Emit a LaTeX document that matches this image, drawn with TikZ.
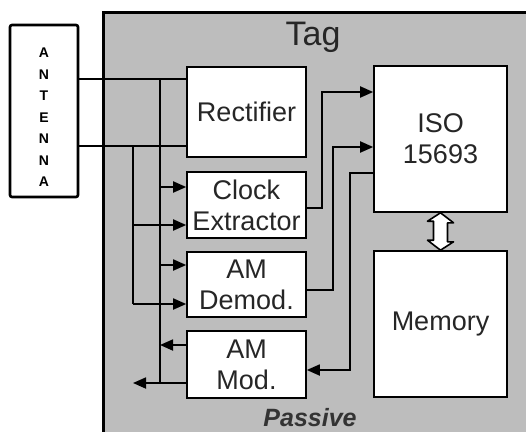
\documentclass[tikz,border=0pt]{standalone}
\usepackage{fontspec}
\setmainfont{Liberation Sans}
\usetikzlibrary{arrows.meta,calc}

\tikzset{
  block/.style={draw=black, line width=1.6pt, fill=white, align=center,
    font=\fontsize{27}{31}\selectfont, text=black!85, inner sep=0pt},
  wire/.style={draw=black, line width=1.8pt},
  arr/.style={wire, -{Triangle[length=13pt,width=11pt]}},
}

\begin{document}
\begin{tikzpicture}[x=1pt,y=-1pt]
  \useasboundingbox (0,0) rectangle (526,431);
  \fill[white] (0,0) rectangle (526,431);

  % tag enclosure
  \draw[line width=3pt, fill=black!26] (103,12) -- (103,440) -- (540,440) -- (540,12) -- cycle;
  \node[font=\fontsize{34}{36}\selectfont, text=black!85, anchor=base] (tag) at (313,45) {Tag};
  \node[font=\fontsize{25}{27}\bfseries\itshape\selectfont, text=black!80, anchor=base,
        inner sep=0pt] (passive) at (310,426) {Passive};

  % antenna
  \node[draw, line width=2.6pt, rounded corners=2pt, fill=white, minimum width=68pt,
        minimum height=172pt, inner sep=0pt] (ant) at (44,111) {};
  \foreach \l [count=\i from 0] in {A,N,T,E,N,N,A}
    \node[font=\fontsize{14}{14}\bfseries\selectfont, inner sep=0pt] (antl\i) at (44,53+21.5*\i) {\l};

  % blocks
  \node[block, minimum width=119pt, minimum height=90pt] (rect) at (246.5,112) {Rectifier};
  \node[block, minimum width=119pt, minimum height=66pt] (clk) at (246.5,205) {Clock\\Extractor};
  \node[block, minimum width=119pt, minimum height=65pt] (dem) at (246.5,284.5) {AM\\Demod.};
  \node[block, minimum width=119pt, minimum height=67pt] (mod) at (246.5,364.5) {AM\\Mod.};
  \node[block, minimum width=133pt, minimum height=146pt] (iso) at (440.5,139) {ISO\\15693};
  \node[block, minimum width=133pt, minimum height=146pt] (mem) at (440.5,324) {Memory};

  % bus rails
  \coordinate (ta) at (0,79);
  \coordinate (tb) at (0,146);
  \coordinate (busA) at (160,0);
  \coordinate (busB) at (133,0);

  \draw[wire] (ant.east |- ta) -- (rect.west |- ta);
  \draw[wire] (ant.east |- tb) -- (rect.west |- tb);
  \draw[wire] (busA |- ta) -- (busA |- 0,383);
  \draw[wire] (busB |- tb) -- (busB |- 0,304);

  % feeds into the front-end blocks
  \draw[arr] (busA |- 0,187) -- (clk.west |- 0,187);
  \draw[arr] (busB |- 0,225) -- (clk.west |- 0,225);
  \draw[arr] (busA |- 0,265) -- (dem.west |- 0,265);
  \draw[arr] (busB |- 0,304) -- (dem.west |- 0,304);
  \draw[arr] (mod.west |- 0,345) -- (busA |- 0,345);
  \draw[arr] (mod.west |- 0,383) -- (busB |- 0,383);

  % links to the ISO 15693 controller
  \draw[arr] (clk.east |- 0,208) -| (322,92) -- (iso.west |- 0,92);
  \draw[arr] (dem.east |- 0,290) -| (333,147) -- (iso.west |- 0,147);
  \draw[arr] (iso.west |- 0,173) -| (350,370) -- (mod.east |- 0,370);

  % bidirectional link to memory
  \draw[line width=1.6pt, fill=white, line join=round]
    (iso.south) -- ++(13,10) -- ++(-6,0) -- ++(0,19) -- ++(6,0)
    -- (mem.north) -- ++(-13,-10) -- ++(6,0) -- ++(0,-19) -- ++(-6,0) -- cycle;
\end{tikzpicture}
\end{document}
